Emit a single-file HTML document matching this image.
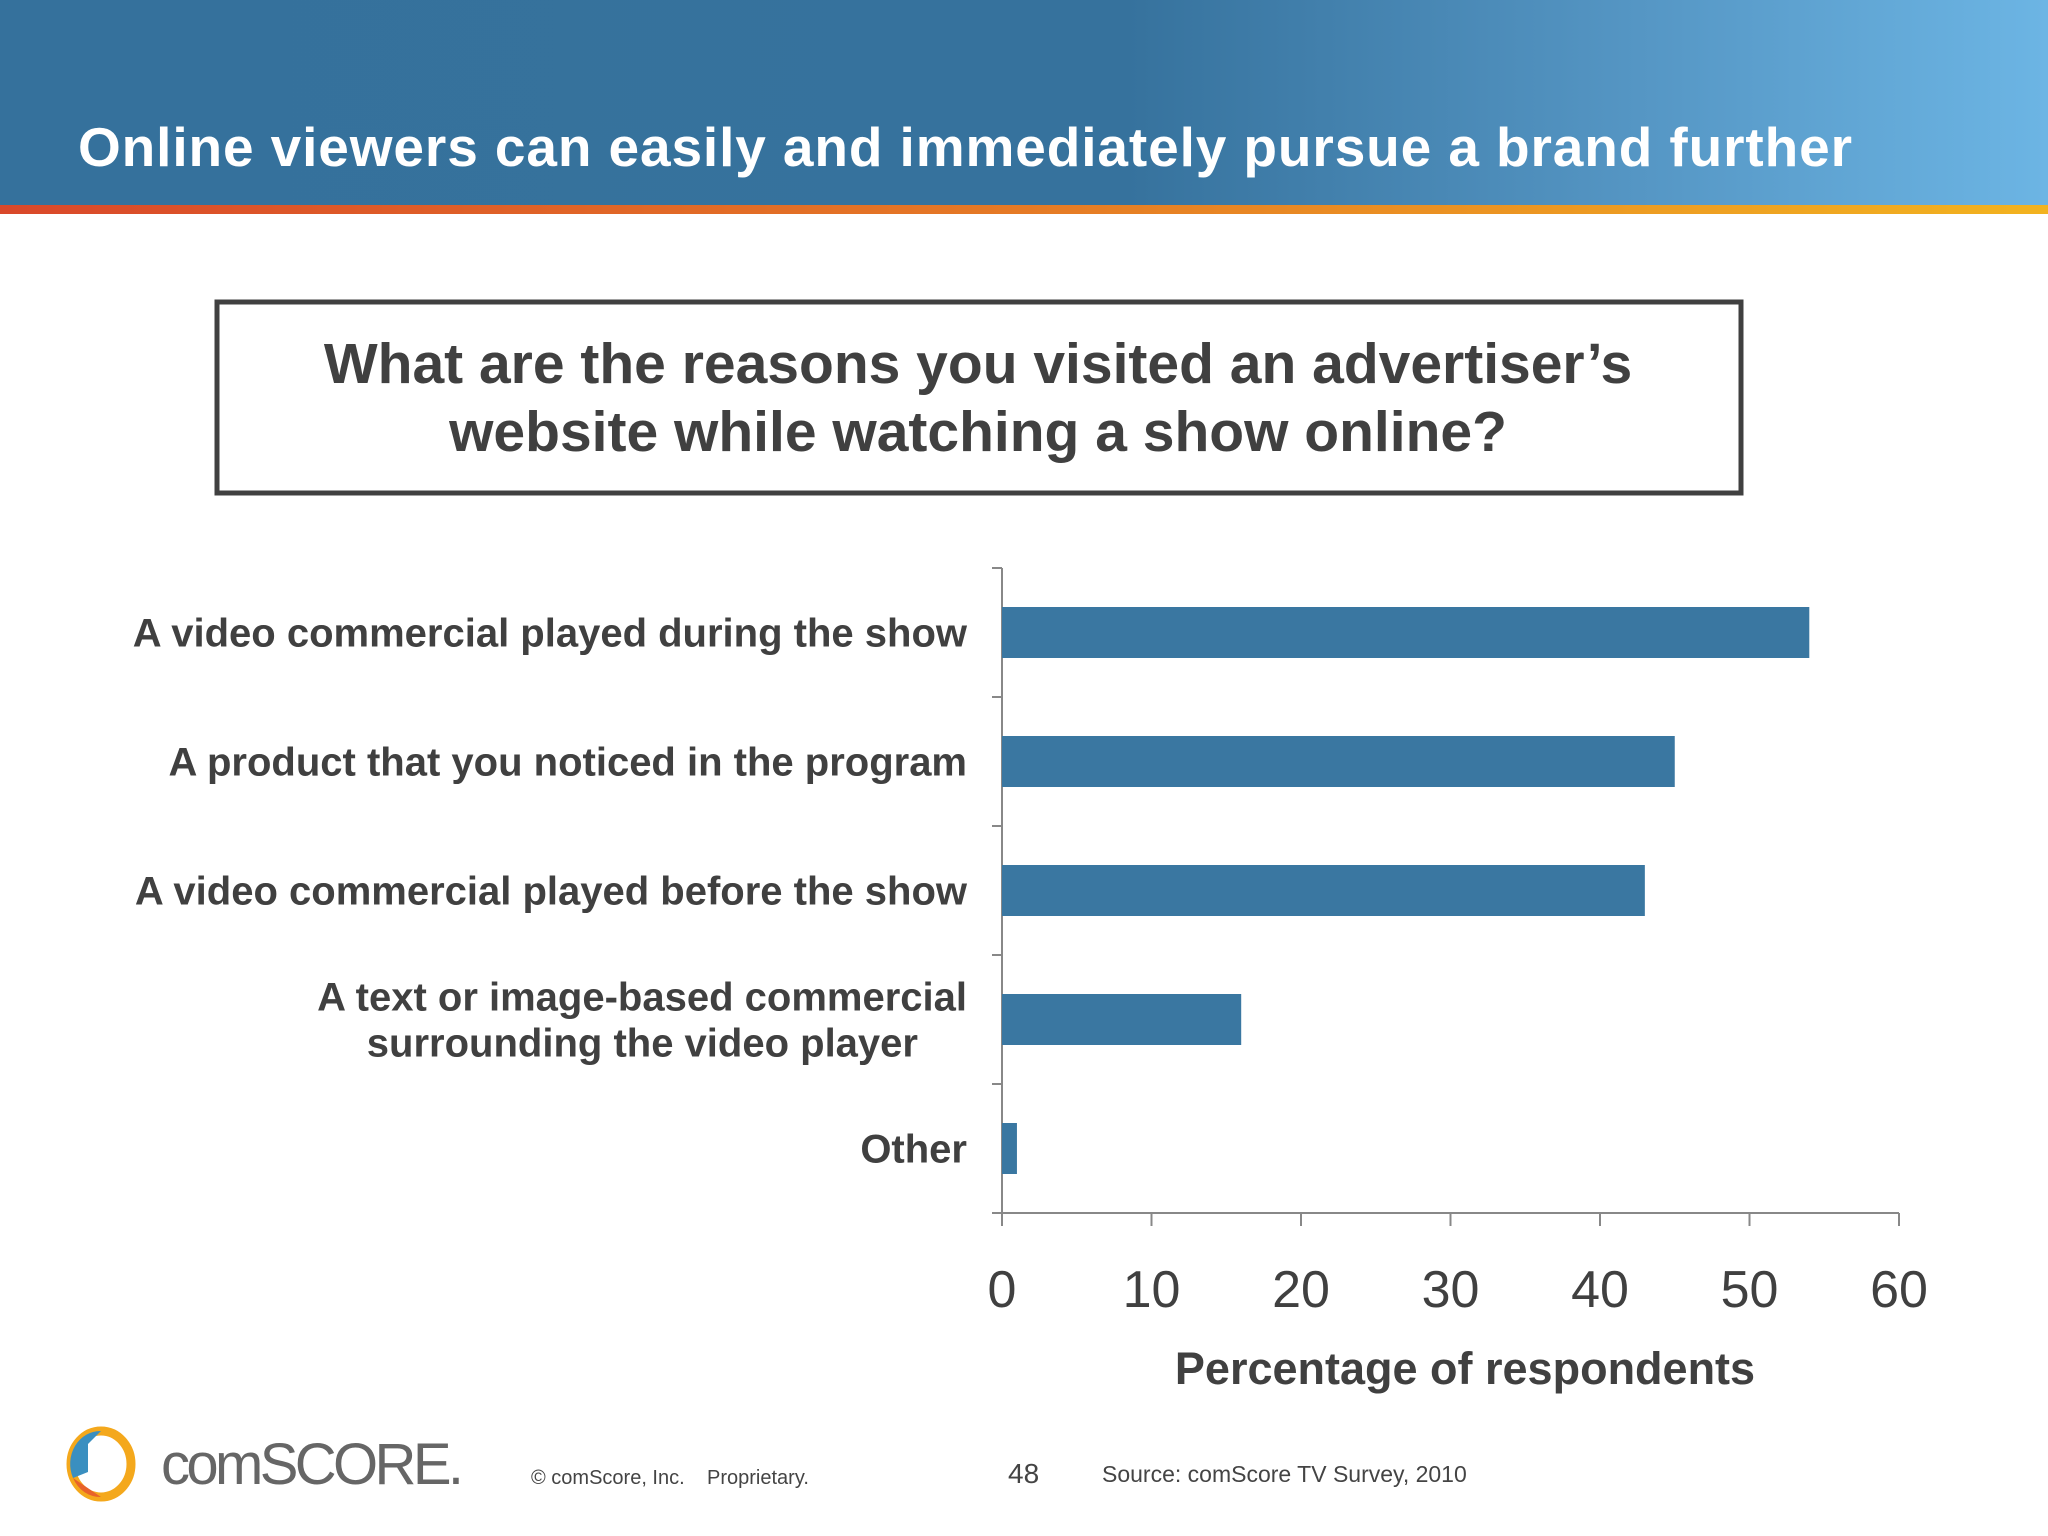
<!DOCTYPE html>
<html><head><meta charset="utf-8"><style>
html,body{margin:0;padding:0;background:#fff;}
svg{display:block;font-family:"Liberation Sans",Arial,sans-serif;}
</style></head><body>
<svg id="s" width="2048" height="1536" viewBox="0 0 2048 1536">
<defs>
<linearGradient id="hg" x1="0" x2="1" y1="0" y2="0">
<stop offset="0" stop-color="#35719c"/><stop offset="0.55" stop-color="#36729d"/><stop offset="0.8" stop-color="#5596c4"/><stop offset="1" stop-color="#6cb5e4"/></linearGradient>
<linearGradient id="sg" x1="0" x2="1" y1="0" y2="0">
<stop offset="0" stop-color="#d9482a"/><stop offset="0.5" stop-color="#e57a25"/><stop offset="1" stop-color="#f2b320"/></linearGradient>
</defs>
<rect x="0" y="0" width="2048" height="206" fill="url(#hg)"/>
<rect x="0" y="205" width="2048" height="9" fill="url(#sg)"/>
<text x="78" y="166" font-size="55" font-weight="bold" fill="#fff" textLength="1774">Online viewers can easily and immediately pursue a brand further</text>
<rect x="217" y="302" width="1524" height="191" fill="none" stroke="#404040" stroke-width="5"/>
<text x="978" y="383" font-size="57" font-weight="bold" fill="#404040" text-anchor="middle">What are the reasons you visited an advertiser’s</text>
<text x="978" y="451" font-size="57" font-weight="bold" fill="#404040" text-anchor="middle">website while watching a show online?</text>
<g id="chart"></g>
<g>
<ellipse cx="101" cy="1464" rx="30" ry="33" fill="none" stroke="#f4a81c" stroke-width="9"/>
<path d="M101 1431 A30 33 0 0 0 73 1478 L88 1472 L88 1444 Z" fill="#3a8fc0"/>
<path d="M73 1478 A30 33 0 0 0 101 1497 Z" fill="#e8622a"/>
<text x="161" y="1484" font-size="58" fill="#666" textLength="303" lengthAdjust="spacing">comSCORE.</text>
</g>
<text x="531" y="1484" font-size="20" fill="#444">© comScore, Inc.</text>
<text x="707" y="1484" font-size="20" fill="#444">Proprietary.</text>
<text x="1008" y="1483" font-size="28" fill="#444">48</text>
<text x="1102" y="1482" font-size="23" fill="#444">Source: comScore TV Survey, 2010</text>
</svg>
<script>
const categories = [["A video commercial played during the show"],["A product that you noticed in the program"],["A video commercial played before the show"],["A text or image-based commercial","surrounding the video player"],["Other"]];
const values = [54, 45, 43, 16, 1];
const tickLabels = [0, 10, 20, 30, 40, 50, 60];
const xMax = 60;
const NS = "http://www.w3.org/2000/svg";
const g = document.getElementById("chart");
const X0 = 1002, X1 = 1899, Y0 = 568, Y1 = 1213;
const band = (Y1 - Y0) / categories.length;
function xs(v){ return X0 + (v / xMax) * (X1 - X0); }
function yb(i){ return Y0 + i * band; }
function mk(tag, attrs){ const e = document.createElementNS(NS, tag); for (const k in attrs) e.setAttribute(k, attrs[k]); g.appendChild(e); return e; }
let ax = mk("line", {x1:X0, y1:Y0, x2:X0, y2:Y1, stroke:"#888", "stroke-width":2});


let bx = mk("line", {x1:X0-10, y1:Y1, x2:X1, y2:Y1, stroke:"#888", "stroke-width":2});


for (let i = 0; i <= categories.length; i++) {
  let t = mk("line", {x1:X0-10, y1:yb(i), x2:X0, y2:yb(i), stroke:"#888", "stroke-width":2});
  
  
}
tickLabels.forEach(v => {
  let t = mk("line", {x1:xs(v), y1:Y1, x2:xs(v), y2:Y1+13, stroke:"#888", "stroke-width":2});
  
  
  let l = mk("text", {x:xs(v), y:Y1+94, "font-size":52, fill:"#404040", "text-anchor":"middle"});
  l.textContent = v;
  
  
});
categories.forEach((lines, i) => {
  const cy = yb(i) + band / 2;
  const bh = 51;
  let r = mk("rect", {x:X0, y:cy - bh/2, width:xs(values[i]) - X0, height:bh, fill:"#3a77a1"});
  
  
  const lh = 46;
  lines.forEach((txt, j) => {
    const ty = cy + 14 + (j - (lines.length - 1) / 2) * lh;
    let a = (lines.length > 1 && j === 1) ? {x:918, y:ty, "text-anchor":"end"} : {x:967, y:ty, "text-anchor":"end"};
    a["font-size"] = 40; a["font-weight"] = "bold"; a.fill = "#404040";
    let l = mk("text", a);
    l.textContent = txt;
    
    
  });
});
let tt = mk("text", {x:1465, y:1384, "font-size":45, "font-weight":"bold", fill:"#404040", "text-anchor":"middle"});
tt.textContent = "Percentage of respondents";


</script>
</body></html>
